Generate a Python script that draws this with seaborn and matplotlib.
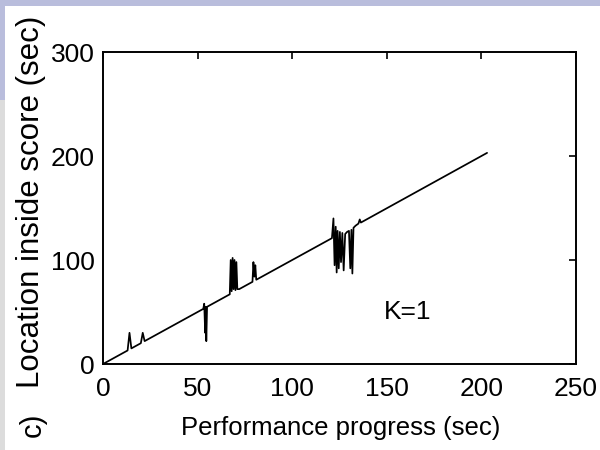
import matplotlib
matplotlib.use("Agg")
import matplotlib.pyplot as plt
from matplotlib.patches import Rectangle
import seaborn as sns
import pandas as pd

# ---- data ----
progress = [0, 13, 14, 15, 20, 21, 22,
            53, 53.5, 54, 54.3, 54.6, 55,
            67, 67.5, 68, 68.5, 69, 69.5, 70, 70.5, 71, 72,
            79, 79.5, 80, 80.5, 81,
            121, 121.8, 122.4, 123, 123.5, 124, 124.6, 125.2, 125.8, 126.5,
            127.2, 128, 129, 130, 130.7, 131.3, 131.8, 132.4, 133.5,
            135, 135.7, 136.3, 203]
location = [0, 13, 30, 15, 20, 30, 22,
            53, 58, 30, 55, 22, 55,
            67, 100, 70, 102, 72, 100, 71, 98, 72, 72,
            79, 98, 84, 95, 81,
            121, 140, 95, 132, 88, 128, 92, 127, 98, 126,
            90, 125, 127, 128, 92, 129, 87, 131, 133,
            135, 139, 136, 203]
x_ticks = [0, 50, 100, 150, 200, 250]
y_ticks = [0, 100, 200, 300]
annotation = "K=1"

df = pd.DataFrame({"progress": progress, "location": location})

sns.set_theme(style="white")
plt.rcParams["font.family"] = ["Liberation Sans", "DejaVu Sans"]

fig = plt.figure(figsize=(6, 4.5), dpi=100)
fig.patch.set_facecolor("white")
# background decorations of the screenshot
fig.patches.append(Rectangle((0, 1 - 6 / 450), 1, 6 / 450, transform=fig.transFigure,
                             facecolor="#B9BDDC", edgecolor="none", zorder=0))
fig.patches.append(Rectangle((0, 1 - 100 / 450), 5 / 600, 100 / 450, transform=fig.transFigure,
                             facecolor="#B9BDDC", edgecolor="none", zorder=0))
fig.patches.append(Rectangle((0, 0), 5 / 600, 350 / 450, transform=fig.transFigure,
                             facecolor="#DCDCDC", edgecolor="none", zorder=0))

ax = fig.add_axes([103 / 600, 1 - 364 / 450, 473 / 600, 312 / 450])
sns.lineplot(data=df, x="progress", y="location", sort=False, estimator=None,
             color="black", linewidth=1.25, ax=ax)

ax.set_xlim(0, 250)
ax.set_ylim(0, 300)
ax.set_xticks(x_ticks)
ax.set_yticks(y_ticks)
ax.set_xticklabels([str(t) for t in x_ticks])
ax.set_yticklabels([str(t) for t in y_ticks])
for s in ax.spines.values():
    s.set_visible(True)
    s.set_color("black")
    s.set_linewidth(1.4)
ax.tick_params(axis="both", direction="in", length=5, width=1.2, colors="black",
               top=True, right=True, labelsize=19)
ax.tick_params(axis="x", pad=9)
ax.tick_params(axis="y", pad=6)

ax.set_xlabel("Performance progress (sec)", fontsize=18.5, color="black")
ax.set_ylabel("Location inside score (sec)", fontsize=22.5, color="black")
ax.xaxis.set_label_coords(0.503, -0.168)
ax.yaxis.set_label_coords(-0.12, 0.52)

ax.text(161, 50, annotation, fontsize=19, ha="center", va="center", color="black")

fig.text(33 / 600, 1 - 413 / 450, "c)", rotation=90, ha="center", va="top",
         fontsize=21, color="black")

fig.savefig("out.png", dpi=100, facecolor=fig.get_facecolor())
